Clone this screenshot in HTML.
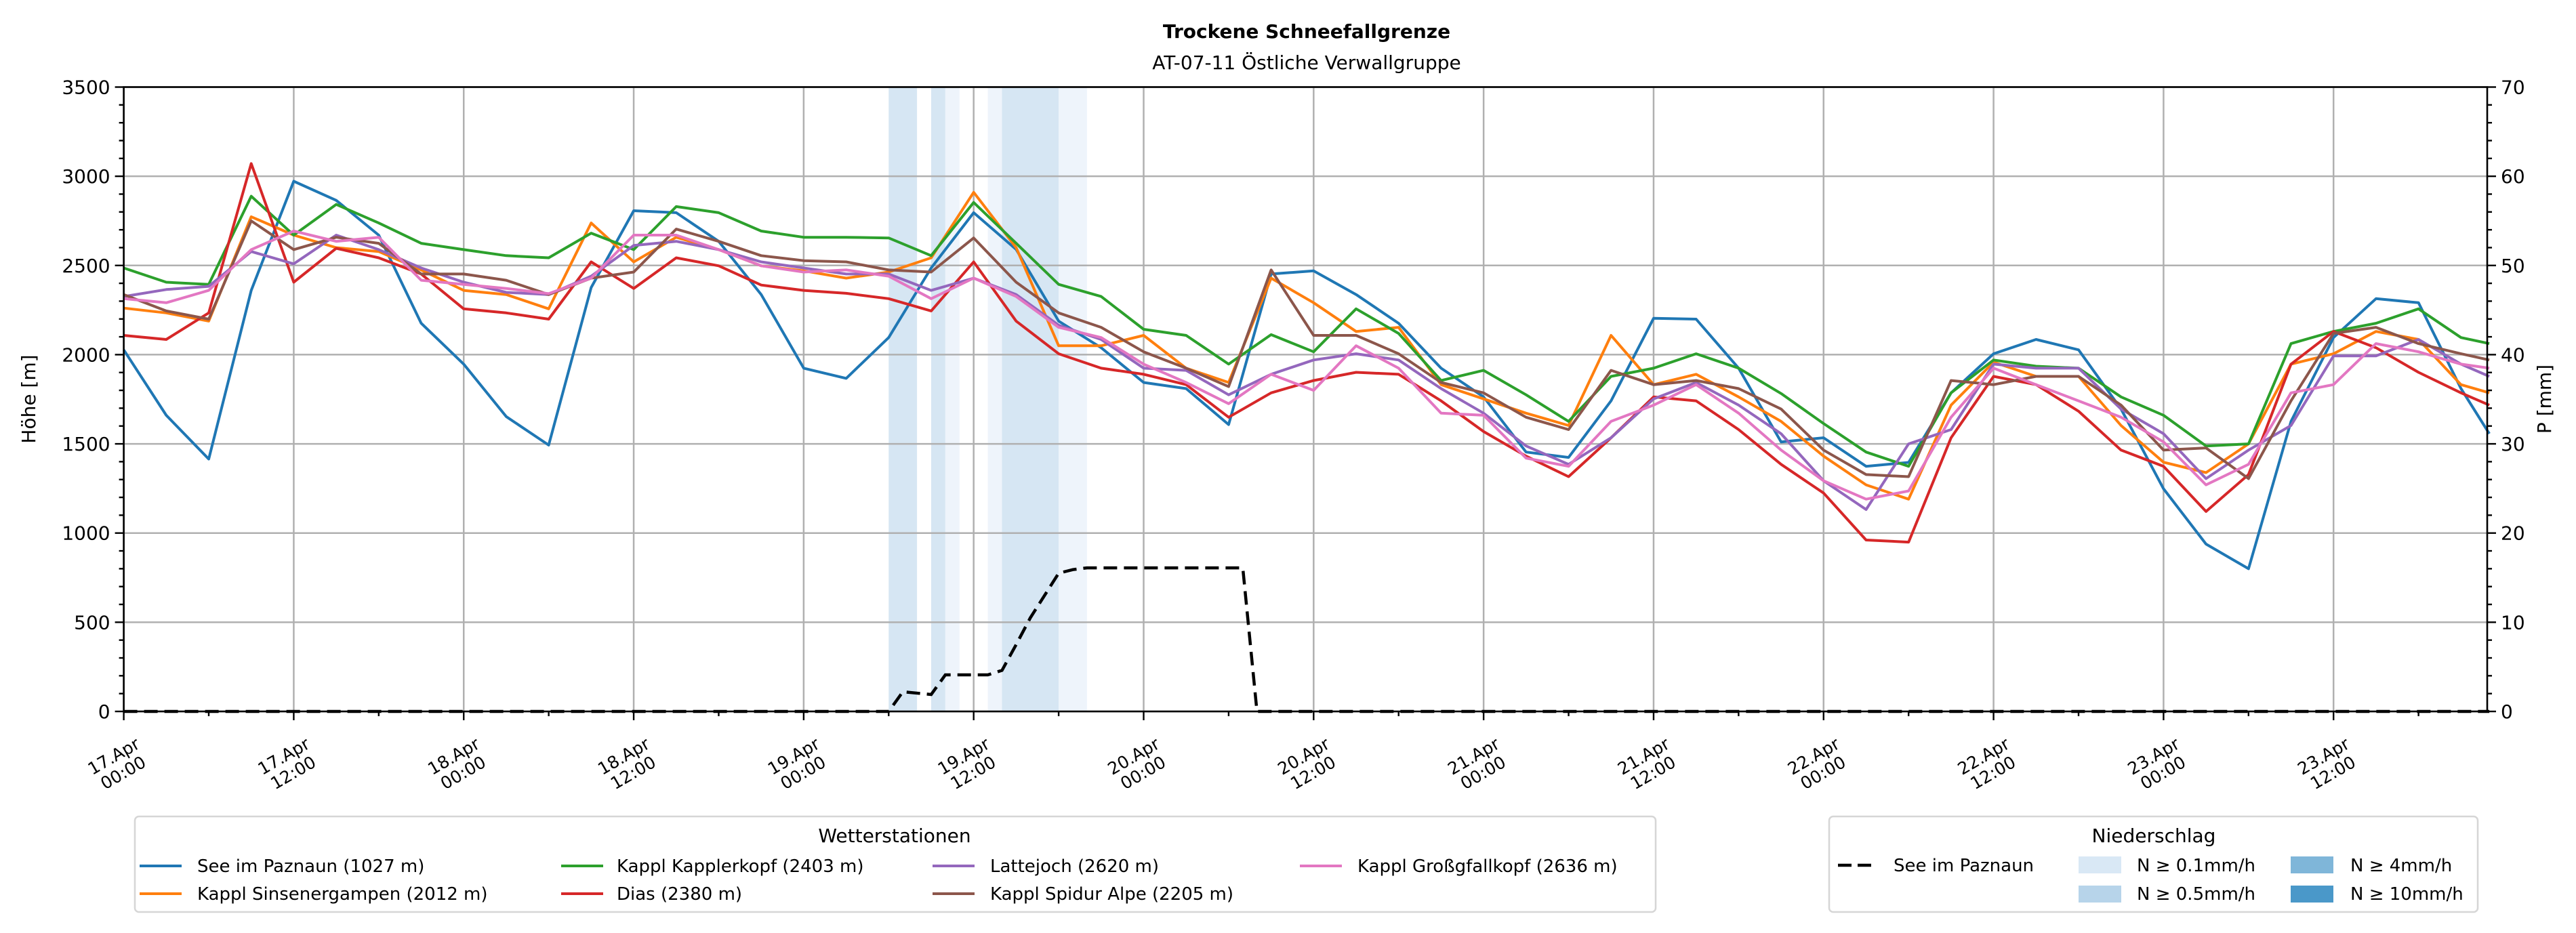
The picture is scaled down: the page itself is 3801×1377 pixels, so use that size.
<!DOCTYPE html>
<html><head><meta charset="utf-8"><style>
html,body{margin:0;padding:0;background:#fff;}
svg{display:block;font-family:"DejaVu Sans","Liberation Sans",sans-serif;}
</style></head><body>
<svg id="chart" xmlns="http://www.w3.org/2000/svg" width="3801" height="1377" viewBox="0 0 3801 1377">
<rect x="0" y="0" width="3801" height="1377" fill="#fff"/>
<text x="1928" y="56" font-size="28" font-weight="bold" text-anchor="middle">Trockene Schneefallgrenze</text>
<text x="1928" y="102" font-size="28" text-anchor="middle">AT-07-11 Östliche Verwallgruppe</text>
<g id="bands"></g>
<g id="grid"></g>
<g id="series"></g>
<g id="axes"></g>
<text transform="translate(52,589) rotate(-90)" font-size="28" text-anchor="middle">Höhe [m]</text>
<text transform="translate(3764,589) rotate(-90)" font-size="28" text-anchor="middle">P [mm]</text>

<g>
<rect x="199" y="1205" width="2244" height="141" rx="6" fill="#fff" stroke="#d6d6d6" stroke-width="2.5"/>
<text x="1320" y="1243" font-size="28" text-anchor="middle">Wetterstationen</text>
<g font-size="26">
<g><line x1="206" y1="1278" x2="268" y2="1278" stroke="#1f77b4" stroke-width="4"/><text x="291" y="1287">See im Paznaun (1027 m)</text></g>
<g><line x1="206" y1="1319" x2="268" y2="1319" stroke="#ff7f0e" stroke-width="4"/><text x="291" y="1328">Kappl Sinsenergampen (2012 m)</text></g>
<g><line x1="828" y1="1278" x2="890" y2="1278" stroke="#2ca02c" stroke-width="4"/><text x="910" y="1287">Kappl Kapplerkopf (2403 m)</text></g>
<g><line x1="828" y1="1319" x2="890" y2="1319" stroke="#d62728" stroke-width="4"/><text x="910" y="1328">Dias (2380 m)</text></g>
<g><line x1="1376" y1="1278" x2="1438" y2="1278" stroke="#9467bd" stroke-width="4"/><text x="1461" y="1287">Lattejoch (2620 m)</text></g>
<g><line x1="1376" y1="1319" x2="1438" y2="1319" stroke="#8c564b" stroke-width="4"/><text x="1461" y="1328">Kappl Spidur Alpe (2205 m)</text></g>
<g><line x1="1918" y1="1278" x2="1980" y2="1278" stroke="#e377c2" stroke-width="4"/><text x="2003" y="1287">Kappl Großgfallkopf (2636 m)</text></g>
</g></g>

<g>
<rect x="2699" y="1205" width="957" height="141" rx="6" fill="#fff" stroke="#d6d6d6" stroke-width="2.5"/>
<text x="3178" y="1243" font-size="28" text-anchor="middle">Niederschlag</text>
<g font-size="26">
<g><line x1="2712" y1="1277" x2="2767" y2="1277" stroke="#000" stroke-width="4.5" stroke-dasharray="20,9"/><text x="2794" y="1286">See im Paznaun</text></g>
<g><rect x="3067" y="1264" width="63" height="25" fill="#d9e8f5"/><text x="3153" y="1286">N ≥ 0.1mm/h</text></g>
<g><rect x="3067" y="1307" width="63" height="25" fill="#b7d4ea"/><text x="3153" y="1328">N ≥ 0.5mm/h</text></g>
<g><rect x="3380" y="1264" width="63" height="25" fill="#7fb6d9"/><text x="3468" y="1286">N ≥ 4mm/h</text></g>
<g><rect x="3380" y="1307" width="63" height="25" fill="#4a98c9"/><text x="3468" y="1328">N ≥ 10mm/h</text></g>
</g></g>
</svg>
<script>
// ---- data (hours since 17.Apr 00:00) ----
const hours = [0,3,6,9,12,15,18,21,24,27,30,33,36,39,42,45,48,51,54,57,60,63,66,69,72,75,78,81,84,87,90,93,96,99,102,105,108,111,114,117,120,123,126,129,132,135,138,141,144,147,150,153,156,159,162,165,167];
const seePaznaun = [2027,1660,1415,2360,2972,2865,2670,2176,1947,1653,1493,2376,2807,2796,2635,
 2337,1924,1867,2096,2486,2796,2590,2188,2039,1844,1810,1608,2452,2470,
 2337,2176,1924,1763,1454,1424,1741,2204,2199,1924,1511,1534,1374,1396,
 1786,2005,2085,2027,1695,1248,938,800,1626,2096,2314,2291,1810,1557];
const sinsenergampen = [2261,2234,2188,2773,2670,2600,2578,2475,2360,2337,2257,2738,2520,2658,2589,
 2498,2470,2429,2463,2543,2910,2600,2050,2050,2108,1924,1844,2429,2291,
 2130,2153,1832,1752,1672,1603,2108,1832,1890,1763,1626,1431,1270,1190,
 1717,1958,1878,1878,1603,1397,1339,1500,1947,2005,2130,2085,1832,1786];
const kapplerkopf = [2486,2406,2394,2888,2670,2842,2738,2624,2589,2555,2543,2681,2589,2830,2796,
 2693,2658,2658,2654,2555,2853,2624,2394,2326,2142,2108,1947,2112,2016,
 2257,2119,1855,1912,1775,1626,1878,1924,2005,1924,1782,1614,1454,1374,
 1786,1970,1935,1924,1763,1660,1488,1500,2062,2130,2176,2257,2096,2062];
const dias = [2108,2085,2234,3071,2406,2596,2543,2452,2257,2234,2199,2520,2371,2543,2498,
 2390,2360,2344,2314,2245,2520,2188,2005,1924,1890,1832,1649,1786,1855,
 1901,1890,1741,1569,1431,1316,1534,1763,1741,1580,1385,1224,961,949,
 1534,1878,1832,1683,1465,1374,1121,1328,1947,2130,2039,1901,1786,1717];
const lattejoch = [2326,2365,2383,2578,2509,2670,2589,2486,2406,2349,2337,2440,2612,2635,2589,
 2520,2486,2452,2452,2360,2429,2337,2165,2085,1924,1912,1775,1890,1970,
 2005,1970,1810,1672,1488,1385,1534,1752,1844,1717,1557,1293,1132,1500,
 1580,1947,1924,1924,1695,1557,1305,1465,1603,1993,1993,2085,1947,1878];
const spidurAlpe = [2337,2245,2199,2750,2589,2658,2624,2452,2452,2417,2337,2429,2463,2704,2635,
 2555,2527,2520,2475,2463,2654,2406,2234,2153,2016,1924,1821,2475,2108,
 2108,2005,1844,1786,1649,1580,1912,1832,1855,1810,1695,1465,1328,1316,
 1855,1832,1878,1878,1717,1465,1477,1305,1741,2119,2153,2062,2005,1970];
const grossgfallkopf = [2314,2291,2360,2589,2693,2635,2658,2417,2394,2371,2342,2429,2670,2670,2589,
 2498,2463,2475,2440,2314,2429,2326,2153,2096,1947,1844,1725,1890,1800,
 2050,1924,1672,1660,1420,1374,1626,1717,1832,1672,1465,1293,1190,1236,
 1649,1924,1832,1741,1649,1511,1270,1385,1786,1832,2062,2016,1947,1924];
const precipHours = [0,54,55,57,58,61,62,63,64,66,67,68,79,80,167];
const precipValues = [0,0,2.2,1.9,4.1,4.1,4.6,7.5,10.5,15.5,15.9,16.1,16.1,0,0];
const bandStart = [54,57,58,61,62,66];
const bandEnd = [56,58,59,62,66,68];
const bandLevel = [0.5,0.5,0.1,0.1,0.5,0.1];
const yTicks = [0,500,1000,1500,2000,2500,3000,3500];
const y2Ticks = [0,10,20,30,40,50,60,70];
const xTickHours = [0,12,24,36,48,60,72,84,96,108,120,132,144,156];
const xTickLabels = [["17.Apr","00:00"],["17.Apr","12:00"],["18.Apr","00:00"],["18.Apr","12:00"],["19.Apr","00:00"],["19.Apr","12:00"],["20.Apr","00:00"],["20.Apr","12:00"],["21.Apr","00:00"],["21.Apr","12:00"],["22.Apr","00:00"],["22.Apr","12:00"],["23.Apr","00:00"],["23.Apr","12:00"]];

// ---- axes ----
const L=182.6, R=3670, T=128.5, B=1050, HMAX=166.85;
const xs = h => L + (R-L)*h/HMAX;
const ys = v => B - (B-T)*v/3500;
const y2s = v => B - (B-T)*v/70;
const NS="http://www.w3.org/2000/svg";
function mk(tag, attrs, parent){const e=document.createElementNS(NS,tag);for(const k in attrs)e.setAttribute(k,attrs[k]);parent.appendChild(e);return e;}
const gBands=document.getElementById('bands'), gGrid=document.getElementById('grid'), gS=document.getElementById('series'), gA=document.getElementById('axes');

bandStart.forEach((s,i)=>{
  const r=mk('rect',{x:xs(s),y:T,width:xs(bandEnd[i])-xs(s),height:B-T,fill:bandLevel[i]>=0.5?'#d6e6f3':'#eef4fb'},gBands);
  
  
});
yTicks.forEach(v=>{const l=mk('line',{x1:L,x2:R,y1:ys(v),y2:ys(v),stroke:'#b0b0b0','stroke-width':2.5},gGrid);
  
  });
xTickHours.forEach(h=>{const l=mk('line',{x1:xs(h),x2:xs(h),y1:T,y2:B,stroke:'#b0b0b0','stroke-width':2.5},gGrid);
  
  });

const stations=[[seePaznaun,'#1f77b4','see-im-paznaun-line'],[sinsenergampen,'#ff7f0e','sinsenergampen-line'],[kapplerkopf,'#2ca02c','kapplerkopf-line'],[dias,'#d62728','dias-line'],[lattejoch,'#9467bd','lattejoch-line'],[spidurAlpe,'#8c564b','spidur-alpe-line'],[grossgfallkopf,'#e377c2','grossgfallkopf-line']];
stations.forEach(([vals,col,name])=>{
  const pts=vals.map((v,i)=>xs(hours[i]).toFixed(1)+','+ys(v).toFixed(1)).join(' ');
  const p=mk('polyline',{points:pts,fill:'none',stroke:col,'stroke-width':4,'stroke-linejoin':'round'},gS);
  
  
});
const pp=mk('polyline',{points:precipHours.map((h,i)=>xs(h).toFixed(1)+','+y2s(precipValues[i]).toFixed(1)).join(' '),fill:'none',stroke:'#000','stroke-width':4.5,'stroke-dasharray':'20,10'},gS);



// spines
mk('rect',{x:L,y:T,width:R-L,height:B-T,fill:'none',stroke:'#000','stroke-width':2.6},gA);
// left ticks
for(let v=0;v<=3500;v+=100){const major=v%500===0;mk('line',{x1:L-(major?13:7),x2:L,y1:ys(v),y2:ys(v),stroke:'#000','stroke-width':2.4},gA);}
yTicks.forEach(v=>{const t=mk('text',{x:L-20,y:ys(v)+10,'font-size':28,'text-anchor':'end'},gA);t.textContent=v;
  
  });
// right ticks
for(let v=0;v<=70;v+=2){const major=v%10===0;mk('line',{x1:R,x2:R+(major?13:7),y1:y2s(v),y2:y2s(v),stroke:'#000','stroke-width':2.4},gA);}
y2Ticks.forEach(v=>{const t=mk('text',{x:R+20,y:y2s(v)+10,'font-size':28,'text-anchor':'start'},gA);t.textContent=v;
  
  });
// x ticks
for(let h=0;h<=HMAX;h+=6){const major=h%12===0;mk('line',{x1:xs(h),x2:xs(h),y1:B,y2:B+(major?13:7),stroke:'#000','stroke-width':2.4},gA);}
xTickHours.forEach((h,i)=>{
  const g=mk('g',{transform:`translate(${xs(h)-8},1128) rotate(-30)`,'font-size':25,'text-anchor':'middle'},gA);
  
  
  const a=mk('text',{x:0,y:-5},g);a.textContent=xTickLabels[i][0];
  const b=mk('text',{x:0,y:23},g);b.textContent=xTickLabels[i][1];
});
</script>
</body></html>
